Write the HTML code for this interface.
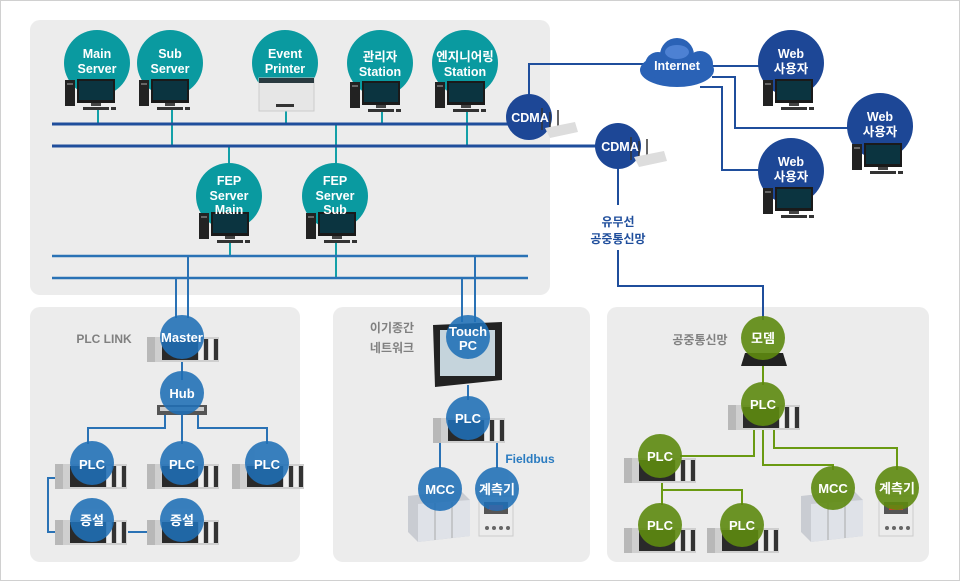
<!DOCTYPE html>
<html><head><meta charset="utf-8"><style>
html,body{margin:0;padding:0;background:#fff;}
svg{display:block;}
text{font-family:"Liberation Sans","Noto Sans CJK KR",sans-serif;font-weight:bold;text-anchor:middle;}
</style></head><body>
<svg width="960" height="581" viewBox="0 0 960 581" xmlns="http://www.w3.org/2000/svg">
<defs>
<g id="pc">
  <rect x="-30" y="0" width="10" height="26" fill="#222"/>
  <rect x="-28" y="3" width="6" height="2" fill="#666"/>
  <rect x="-18" y="-1" width="38" height="24" fill="#1a1a1a"/>
  <rect x="-16" y="1" width="34" height="19" fill="#0b3440"/>
  <rect x="-4" y="23" width="10" height="3" fill="#444"/>
  <rect x="-12" y="27" width="26" height="3" fill="#333"/>
  <rect x="16" y="27" width="5" height="3" fill="#333"/>
</g>
<g id="plc">
  <rect x="-35" y="0" width="72" height="25" fill="#cfcfcf"/>
  <rect x="-35" y="0" width="8" height="25" fill="#b8b8b8"/>
  <rect x="-20" y="2" width="36" height="21" fill="#2a2a2a"/>
  <rect x="17" y="2" width="4" height="21" fill="#f0f0f0"/>
  <rect x="22" y="2" width="4" height="21" fill="#333"/>
  <rect x="27" y="2" width="4" height="21" fill="#f0f0f0"/>
  <rect x="32" y="2" width="4" height="21" fill="#333"/>
</g>
<g id="mcc">
  <polygon points="-32,0 20,-6 30,4 30,40 -22,46 -32,36" fill="#c9ccd2"/>
  <polygon points="-22,8 30,4 30,40 -22,46" fill="#dfe2e8"/>
  <line x1="-5" y1="7" x2="-5" y2="44" stroke="#aaa"/>
  <line x1="12" y1="6" x2="12" y2="42" stroke="#aaa"/>
</g>
<g id="meter">
  <rect x="-18" y="0" width="34" height="40" fill="#ececec" stroke="#ccc"/>
  <rect x="-13" y="6" width="24" height="12" fill="#555"/>
  <rect x="-8" y="9" width="14" height="5" fill="#d33"/>
  <circle cx="-10" cy="32" r="2" fill="#666"/><circle cx="-3" cy="32" r="2" fill="#666"/><circle cx="4" cy="32" r="2" fill="#666"/><circle cx="11" cy="32" r="2" fill="#666"/>
</g>
</defs>
<rect x="0.5" y="0.5" width="959" height="580" fill="#fff" stroke="#d0d0d0"/>
<!-- panels -->
<rect x="30" y="20" width="520" height="275" rx="10" fill="#ececec"/>
<rect x="30" y="307" width="270" height="255" rx="10" fill="#ececec"/>
<rect x="333" y="307" width="257" height="255" rx="10" fill="#ececec"/>
<rect x="607" y="307" width="322" height="255" rx="10" fill="#ececec"/>

<!-- top connectors -->
<g stroke="#13a0a8" stroke-width="2" fill="none">
<line x1="98" y1="110" x2="98" y2="124"/>
<line x1="172" y1="110" x2="172" y2="146"/>
<line x1="286" y1="110" x2="286" y2="124"/>
<line x1="382" y1="110" x2="382" y2="124"/>
<line x1="467" y1="110" x2="467" y2="146"/>
<line x1="229" y1="146" x2="229" y2="165"/>
<line x1="336" y1="124" x2="336" y2="165"/>
<line x1="230" y1="240" x2="230" y2="256"/>
<line x1="336" y1="240" x2="336" y2="278"/>
</g>
<g stroke="#1f4e9c" stroke-width="3">
<line x1="52" y1="124" x2="520" y2="124"/>
<line x1="52" y1="146" x2="610" y2="146"/>
</g>
<g stroke="#2a72b5" stroke-width="2.5">
<line x1="52" y1="256" x2="528" y2="256"/>
<line x1="52" y1="278" x2="528" y2="278"/>
</g>
<g stroke="#2a72b5" stroke-width="2" fill="none">
<line x1="176" y1="278" x2="176" y2="318"/>
<line x1="188" y1="256" x2="188" y2="318"/>
<line x1="462" y1="278" x2="462" y2="322"/>
<line x1="475" y1="256" x2="475" y2="322"/>
<line x1="182" y1="350" x2="182" y2="380"/>
<polyline points="165,412 165,428 88,428 88,444"/>
<line x1="182" y1="412" x2="182" y2="444"/>
<polyline points="198,412 198,428 267,428 267,444"/>
<polyline points="56,478 48,478 48,532 56,532"/>
<line x1="128" y1="532" x2="148" y2="532"/>
<line x1="468" y1="385" x2="468" y2="400"/>
<line x1="440" y1="437" x2="440" y2="468"/>
<line x1="497" y1="437" x2="497" y2="468"/>
</g>
<!-- navy WAN lines -->
<g stroke="#1f4e9c" stroke-width="2" fill="none">
<polyline points="529,96 529,64 645,64"/>
<line x1="712" y1="66" x2="770" y2="66"/>
<polyline points="712,77 735,77 735,128 850,128"/>
<polyline points="700,87 722,87 722,170 770,170"/>
<line x1="618" y1="168" x2="618" y2="205"/>
<polyline points="618,250 618,286 763,286 763,320"/>
</g>
<!-- green lines -->
<g stroke="#6a9a12" stroke-width="2" fill="none">
<line x1="763" y1="360" x2="763" y2="385"/>
<polyline points="754,425 754,456 680,456"/>
<polyline points="763,425 763,465 833,465 833,470"/>
<polyline points="774,425 774,448 897,448 897,470"/>
<polyline points="662,478 662,490 742,490 742,505"/>
<line x1="662" y1="490" x2="662" y2="505"/>
</g>

<!-- top teal nodes -->
<g fill="#0a9aa0">
<circle cx="97" cy="63" r="33"/><circle cx="170" cy="63" r="33"/><circle cx="285" cy="63" r="33"/>
<circle cx="380" cy="63" r="33"/><circle cx="465" cy="63" r="33"/>
<circle cx="229" cy="196" r="33"/><circle cx="335" cy="196" r="33"/>
</g>
<use href="#pc" x="95" y="80"/><use href="#pc" x="169" y="80"/>
<use href="#pc" x="380" y="82"/><use href="#pc" x="465" y="82"/>
<use href="#pc" x="229" y="213"/><use href="#pc" x="336" y="213"/>
<rect x="259" y="78" width="55" height="33" fill="#e6e6e6" stroke="#ccc"/>
<rect x="259" y="78" width="55" height="5" fill="#2a3a40"/>
<rect x="276" y="104" width="18" height="3" fill="#333"/>
<g fill="#fff" font-size="12.5">
<text x="97" y="58">Main</text><text x="97" y="73">Server</text>
<text x="170" y="58">Sub</text><text x="170" y="73">Server</text>
<text x="285" y="58">Event</text><text x="285" y="73">Printer</text>
<text x="380" y="61">관리자</text><text x="380" y="76">Station</text>
<text x="465" y="61">엔지니어링</text><text x="465" y="76">Station</text>
<text x="229" y="185">FEP</text><text x="229" y="200">Server</text><text x="229" y="214">Main</text>
<text x="335" y="185">FEP</text><text x="335" y="200">Server</text><text x="335" y="214">Sub</text>
</g>

<!-- CDMA / internet -->
<circle cx="529" cy="117" r="23" fill="#1d4796"/>
<circle cx="618" cy="146" r="23" fill="#1d4796"/>
<g stroke="#333" stroke-width="1.5">
<line x1="542" y1="108" x2="542" y2="130"/><line x1="550" y1="112" x2="550" y2="132"/><line x1="558" y1="110" x2="558" y2="134"/>
<line x1="631" y1="137" x2="631" y2="160"/><line x1="639" y1="141" x2="639" y2="162"/><line x1="647" y1="139" x2="647" y2="164"/>
</g>
<polygon points="545,128 575,122 578,132 550,138" fill="#ddd"/>
<polygon points="634,157 664,151 667,161 639,167" fill="#ddd"/>
<g fill="#fff" font-size="12.5">
<text x="530" y="122">CDMA</text><text x="620" y="151">CDMA</text>
</g>
<g fill="#2a62b6">
<ellipse cx="677" cy="70" rx="37" ry="17"/>
<circle cx="677" cy="55" r="17"/><circle cx="658" cy="65" r="13"/><circle cx="700" cy="64" r="13"/>
</g>
<ellipse cx="677" cy="52" rx="12" ry="7" fill="#5d8fe0" opacity="0.7"/>
<text x="677" y="70" fill="#fff" font-size="12.5">Internet</text>
<g fill="#1d4796">
<circle cx="791" cy="63" r="33"/><circle cx="880" cy="126" r="33"/><circle cx="791" cy="171" r="33"/>
</g>
<use href="#pc" x="793" y="80"/><use href="#pc" x="882" y="144"/><use href="#pc" x="793" y="188"/>
<g fill="#fff" font-size="12.5">
<text x="791" y="58">Web</text><text x="791" y="73">사용자</text>
<text x="880" y="121">Web</text><text x="880" y="136">사용자</text>
<text x="791" y="166">Web</text><text x="791" y="181">사용자</text>
</g>
<g fill="#1f4e9c" font-size="12">
<text x="618" y="226">유무선</text><text x="618" y="243">공중통신망</text>
</g>

<!-- PLC LINK -->
<text x="104" y="343" fill="#808080" font-size="12">PLC LINK</text>
<use href="#plc" x="182" y="337"/>
<rect x="157" y="405" width="50" height="10" fill="#555"/><rect x="160" y="407" width="44" height="4" fill="#ccc"/>
<use href="#plc" x="90" y="464"/><use href="#plc" x="182" y="464"/><use href="#plc" x="267" y="464"/>
<use href="#plc" x="90" y="520"/><use href="#plc" x="182" y="520"/>
<g fill="#1f6fb6" opacity="0.88">
<circle cx="182" cy="337" r="22"/><circle cx="182" cy="393" r="22"/>
<circle cx="92" cy="463" r="22"/><circle cx="182" cy="463" r="22"/><circle cx="267" cy="463" r="22"/>
<circle cx="92" cy="520" r="22"/><circle cx="182" cy="520" r="22"/>
</g>
<g fill="#fff" font-size="13">
<text x="182" y="342">Master</text><text x="182" y="398">Hub</text>
<text x="92" y="469">PLC</text><text x="182" y="469">PLC</text><text x="267" y="469">PLC</text>
<text x="92" y="525">증설</text><text x="182" y="525">증설</text>
</g>

<!-- middle -->
<g fill="#808080" font-size="12"><text x="392" y="332">이기종간</text><text x="392" y="352">네트워크</text></g>
<polygon points="433,325 502,322 502,380 435,387" fill="#222"/>
<rect x="440" y="330" width="55" height="46" fill="#c5d4dc"/>
<use href="#plc" x="468" y="418"/>
<use href="#mcc" x="440" y="496"/>
<use href="#meter" x="497" y="496"/>
<g fill="#1f6fb6" opacity="0.88">
<circle cx="468" cy="337" r="22"/><circle cx="468" cy="418" r="22"/>
<circle cx="440" cy="489" r="22"/><circle cx="497" cy="489" r="22"/>
</g>
<g fill="#fff" font-size="13">
<text x="468" y="336">Touch</text><text x="468" y="350">PC</text>
<text x="468" y="423">PLC</text><text x="440" y="494">MCC</text><text x="497" y="494">계측기</text>
</g>
<text x="530" y="463" fill="#2a7bc0" font-size="12">Fieldbus</text>

<!-- right -->
<text x="700" y="344" fill="#808080" font-size="12">공중통신망</text>
<polygon points="745,353 783,353 787,366 741,366" fill="#222"/>
<use href="#plc" x="763" y="405"/>
<use href="#plc" x="659" y="458"/>
<use href="#plc" x="659" y="528"/><use href="#plc" x="742" y="528"/>
<use href="#mcc" x="833" y="496"/>
<use href="#meter" x="897" y="496"/>
<g fill="#5e8a10" opacity="0.9">
<circle cx="763" cy="338" r="22"/><circle cx="763" cy="404" r="22"/>
<circle cx="660" cy="456" r="22"/><circle cx="660" cy="525" r="22"/><circle cx="742" cy="525" r="22"/>
<circle cx="833" cy="488" r="22"/><circle cx="897" cy="488" r="22"/>
</g>
<g fill="#fff" font-size="13">
<text x="763" y="343">모뎀</text><text x="763" y="409">PLC</text>
<text x="660" y="461">PLC</text><text x="660" y="530">PLC</text><text x="742" y="530">PLC</text>
<text x="833" y="493">MCC</text><text x="897" y="493">계측기</text>
</g>
</svg>
</body></html>
